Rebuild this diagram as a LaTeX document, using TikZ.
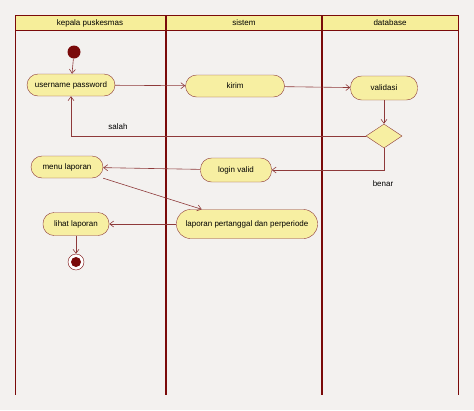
\documentclass[tikz,border=0pt]{standalone}
\usepackage{fontspec}
\setmainfont{Liberation Sans}
\usetikzlibrary{arrows.meta, shapes.geometric}

\definecolor{bgcol}{HTML}{F3F1EF}
\definecolor{lanecol}{HTML}{7A0A0A}
\definecolor{headcol}{HTML}{F6EE9A}
\definecolor{actcol}{HTML}{F7EFA2}
\definecolor{edgecol}{HTML}{8E3A3A}

\begin{document}
\begin{tikzpicture}[x=1pt, y=-1pt,
  font=\fontsize{8}{9}\selectfont,
  act/.style={draw=edgecol, fill=actcol, rounded corners=11pt,
    minimum height=22pt, inner sep=2pt},
  flow/.style={draw=edgecol, line width=0.6pt, -{Straight Barb[length=4pt, width=6pt]}},
  lane/.style={draw=lanecol}]
  \useasboundingbox[fill=bgcol] (0,0) rectangle (474,410);

  % kolom header
  \fill[headcol] (15,15) rectangle (458,30);
  \draw[lane, line width=0.8pt] (15,15) -- (458,15);
  \draw[lane, line width=0.8pt] (15,30) -- (458,30);
  \draw[lane, line width=0.8pt] (15,15) -- (15,395);
  \draw[lane, line width=1.6pt] (166,15) -- (166,395);
  \draw[lane, line width=1.2pt] (322,15) -- (322,395);
  \draw[lane, line width=0.8pt] (458,15) -- (458,395);

  \node (h1) at (90,23)  {kepala puskesmas};
  \node (h2) at (244,23) {sistem};
  \node (h3) at (390,23) {database};

  % start & end
  \node[circle, fill=lanecol, minimum size=13pt, inner sep=0pt] (start) at (74,52) {};
  \node[circle, draw=lanecol, fill=white, minimum size=16pt, inner sep=0pt] (stop) at (76,262) {};
  \fill[lanecol] (stop.center) circle (5pt);

  % aktivitas
  \node[act, minimum width=88pt]  (user)  at (71,85)   {username password};
  \node[act, minimum width=99pt]  (kirim) at (235,86)  {kirim};
  \node[act, minimum width=67pt, minimum height=24pt] (valid) at (384,88) {validasi};
  \node[diamond, draw=edgecol, fill=actcol, minimum width=36pt, minimum height=24pt,
        inner sep=0pt] (dec) at (384,136) {};
  \node[act, minimum width=71pt, minimum height=24pt] (login) at (236,170) {login valid};
  \node[act, minimum width=72pt]  (menu)  at (67,167)  {menu laporan};
  \node[act, minimum width=141pt, minimum height=29pt, rounded corners=14pt] (lap) at (247,224)
    {laporan pertanggal dan perperiode};
  \node[act, minimum width=66pt, minimum height=23pt] (lihat) at (76,224) {lihat laporan};

  % label
  \node (salah) at (118,127) {salah};
  \node (benar) at (383,184) {benar};

  % alur
  \draw[flow] (start) -- (user);
  \draw[flow] (user) -- (kirim);
  \draw[flow] (kirim) -- (valid);
  \draw[flow] (valid) -- (dec);
  \draw[flow] (dec.west) -| (user.south);
  \draw[flow] (dec.south) |- (login.east);
  \draw[flow] (login) -- (menu);
  \draw[flow] (menu.south east) -- (lap.162);
  \draw[flow] (lap) -- (lihat);
  \draw[flow] (lihat) -- (stop);
\end{tikzpicture}
\end{document}
